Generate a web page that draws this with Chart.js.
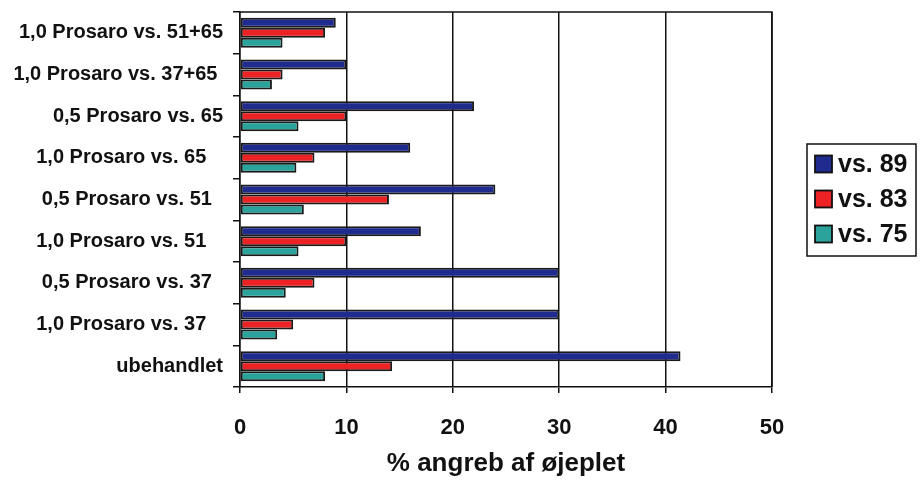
<!DOCTYPE html>
<html>
<head>
<meta charset="utf-8">
<script src="https://cdn.jsdelivr.net/npm/chart.js@4/dist/chart.umd.min.js"></script>
<style>
  html, body { margin: 0; padding: 0; background: #ffffff; }
  #wrap { width: 920px; height: 483px; }
</style>
</head>
<body>
<div id="wrap"><canvas id="c" width="920" height="483"></canvas></div>
<script>
// Treatments (top to bottom); trailing spaces keep the original label offsets
const categories = [
  '1,0 Prosaro vs. 51+65',
  '1,0 Prosaro vs. 37+65 ',
  '0,5 Prosaro vs. 65',
  '1,0 Prosaro vs. 65   ',
  '0,5 Prosaro vs. 51  ',
  '1,0 Prosaro vs. 51   ',
  '0,5 Prosaro vs. 37  ',
  '1,0 Prosaro vs. 37   ',
  'ubehandlet'
];

const seriesNames = ['vs. 89', 'vs. 83', 'vs. 75'];

// % angreb af øjeplet per assessment
const vs89 = [9, 10, 22, 16, 24, 17, 30, 30, 41.4];
const vs83 = [8, 4, 10, 7, 14, 10, 7, 5, 14.3];
const vs75 = [4, 3, 5.5, 5.3, 6, 5.5, 4.3, 3.5, 8];

const xTicks = [0, 10, 20, 30, 40, 50];

const colors = ['#1f2b8e', '#ec2224', '#2ba39d'];
const FONT = "'Liberation Sans', Arial, Helvetica, sans-serif";

// Frame along the top and right of the plot area
const framePlugin = {
  id: 'frame',
  afterDatasetsDraw(chart) {
    const { ctx, chartArea: a } = chart;
    ctx.save();
    ctx.strokeStyle = '#111';
    ctx.lineWidth = 1.5;
    ctx.beginPath();
    ctx.moveTo(a.left, a.top);
    ctx.lineTo(a.right, a.top);
    ctx.lineTo(a.right, a.bottom);
    ctx.stroke();
    ctx.restore();
  }
};

// Boxed legend to the right of the plot
const boxLegend = {
  id: 'boxLegend',
  afterDraw(chart) {
    const { ctx } = chart;
    const x0 = 807, y0 = 144, w = 109, h = 112;
    ctx.save();
    ctx.strokeStyle = '#111';
    ctx.lineWidth = 1.5;
    ctx.strokeRect(x0, y0, w, h);
    ctx.font = 'bold 25px ' + FONT;
    ctx.textBaseline = 'middle';
    ctx.textAlign = 'left';
    chart.data.datasets.forEach((ds, i) => {
      const cy = y0 + 20 + i * 35;
      ctx.fillStyle = ds.backgroundColor;
      ctx.fillRect(x0 + 8, cy - 8.5, 17, 17);
      ctx.strokeStyle = '#111';
      ctx.lineWidth = 1.8;
      ctx.strokeRect(x0 + 8, cy - 8.5, 17, 17);
      ctx.fillStyle = '#111';
      ctx.fillText(ds.label, x0 + 31, cy + 1);
    });
    ctx.restore();
  }
};

const datasets = [vs89, vs83, vs75].map((vals, i) => ({
  label: seriesNames[i],
  data: vals,
  backgroundColor: colors[i],
  borderColor: '#1a1a1a',
  borderWidth: 2,
  borderSkipped: false,
  categoryPercentage: 0.72,
  barPercentage: 1.0
}));

new Chart(document.getElementById('c'), {
  type: 'bar',
  data: { labels: categories, datasets },
  options: {
    indexAxis: 'y',
    responsive: false,
    animation: false,
    layout: { padding: { top: 12, right: 148, left: 0, bottom: 0 } },
    plugins: {
      legend: { display: false },
      tooltip: { enabled: false }
    },
    scales: {
      x: {
        min: 0,
        max: 50,
        afterBuildTicks(scale) { scale.ticks = xTicks.map(v => ({ value: v })); },
        afterFit(scale) {
          scale.height = 96;
          scale.paddingLeft = 0;
          scale.paddingRight = 0;
        },
        grid: {
          color: '#111',
          lineWidth: 1.5,
          tickLength: 6,
          tickColor: '#111'
        },
        border: { color: '#111', width: 1.5 },
        ticks: {
          color: '#111',
          padding: 22,
          font: { family: FONT, size: 22, weight: 'bold' }
        },
        title: {
          display: true,
          text: '% angreb af øjeplet',
          color: '#111',
          padding: { top: 0, bottom: 4 },
          font: { family: FONT, size: 26, weight: 'bold' }
        }
      },
      y: {
        afterFit(scale) {
          scale.width = 240;
          scale.paddingTop = 0;
          scale.paddingBottom = 0;
        },
        grid: {
          drawOnChartArea: false,
          color: '#111',
          lineWidth: 1.5,
          tickLength: 7,
          offset: true
        },
        border: { color: '#111', width: 1.5 },
        ticks: {
          color: '#111',
          padding: 10,
          font: { family: FONT, size: 20, weight: 'bold' }
        }
      }
    }
  },
  plugins: [framePlugin, boxLegend]
});
</script>
</body>
</html>
